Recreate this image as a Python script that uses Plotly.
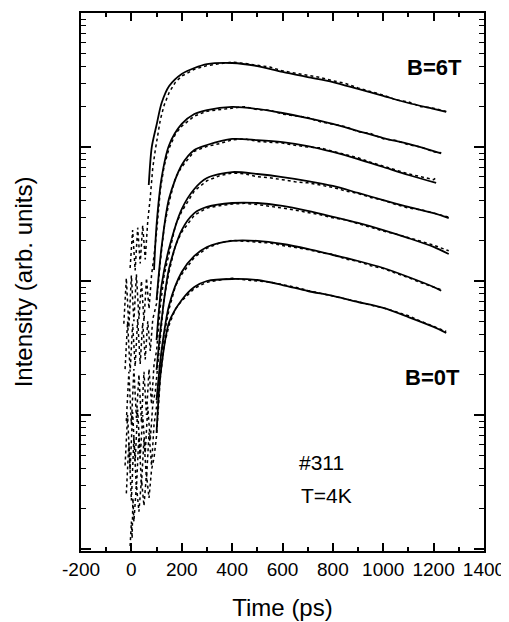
import plotly.graph_objects as go

# ---------------- data (time in ps, intensity in arb. units) ----------------
# fitted curves (solid lines), B = 0T ... 6T
fit_t_0T = [100, 110, 120, 150, 200, 250, 300, 400, 500, 600, 700, 800, 900, 1000, 1100, 1200, 1250]
fit_0T = [7.35, 15.4, 23.6, 49.4, 72.1, 90.2, 100, 103.5, 101.7, 93.3, 84.2, 77.3, 69.7, 62.9, 53.8, 45.4, 40.9]
fit_t_1T = [100, 120, 150, 200, 250, 300, 400, 500, 600, 700, 800, 900, 1000, 1100, 1200, 1230]
fit_1T = [12.9, 30.5, 66.2, 116.7, 153.8, 179.5, 199, 199, 188.8, 173.4, 156.3, 141, 125, 107.1, 90.2, 84.5]
fit_t_2T = [100, 120, 150, 200, 250, 300, 400, 500, 600, 700, 800, 900, 1000, 1100, 1200, 1260]
fit_2T = [21.7, 51.2, 125, 240, 321, 357, 382, 382, 363, 333, 301, 271, 240, 209, 179.5, 159]
fit_t_3T = [100, 120, 150, 200, 250, 300, 400, 500, 600, 700, 800, 900, 1000, 1100, 1200, 1260]
fit_3T = [36.3, 93.3, 176, 344, 486, 587, 650, 629, 597, 557, 512, 454, 402, 357, 321, 295]
fit_t_4T = [100, 120, 150, 200, 250, 300, 400, 500, 600, 700, 800, 900, 1000, 1100, 1210]
fit_4T = [72.1, 179.5, 416, 734, 950, 1035, 1148, 1127, 1089, 1017, 918, 813, 709, 618, 539]
fit_t_5T = [90, 100, 120, 150, 200, 250, 300, 400, 500, 600, 700, 800, 900, 1000, 1100, 1200, 1230]
fit_5T = [120.8, 261.8, 587, 1035, 1486, 1762, 1888, 1990, 1923, 1794, 1644, 1486, 1316, 1167, 1053, 933, 895]
fit_t_6T = [69, 81, 100, 120, 150, 200, 250, 300, 400, 500, 600, 700, 800, 900, 1000, 1100, 1200, 1250]
fit_6T = [520, 1000, 1459, 2130, 2853, 3508, 3888, 4160, 4236, 4018, 3631, 3327, 3055, 2710, 2404, 2130, 1923, 1825]

# measured data (dotted lines)
data_t_0T = [-5, 0, 3, 6, 10, 20, 30, 40, 50, 60, 70, 80, 90,
             100, 115, 130, 150, 175, 200, 250, 300, 350, 400, 450, 500, 550, 600, 650, 700,
             750, 800, 850, 900, 950, 1000, 1050, 1100, 1150, 1200, 1250]
data_0T = [1.05, 1.6, 1.2, 2.4, 1.6, 3.0, 1.9, 3.3, 2.1, 3.6, 2.4, 3.9, 4.8,
           7, 19, 33, 47, 62, 71, 88, 98, 101, 105, 102, 100, 98, 94, 90, 85,
           81, 77, 74, 70, 66, 63, 59, 55, 50, 46, 42]
data_t_1T = [-20, -10, 0, 10, 20, 30, 40, 50, 60, 70, 80, 90,
             100, 115, 130, 150, 175, 200, 250, 300, 350, 400, 450, 500, 550, 600, 650, 700,
             750, 800, 850, 900, 950, 1000, 1050, 1100, 1150, 1200, 1230]
data_1T = [2.6, 6.2, 2.3, 6.8, 2.8, 7.2, 3.0, 6.6, 3.3, 7.4, 4.2, 8.5,
           11.5, 24, 40, 62, 92, 112, 150, 176, 192, 201, 198, 195, 192, 184, 178, 172,
           163, 158, 146, 140, 130, 124, 114, 106, 97, 90, 86]
data_t_2T = [-25, -15, -5, 5, 15, 25, 35, 45, 55, 65, 75, 85, 95,
             100, 115, 130, 150, 175, 200, 250, 300, 350, 400, 450, 500, 550, 600, 650, 700,
             750, 800, 850, 900, 950, 1000, 1050, 1100, 1150, 1200, 1260]
data_2T = [4.2, 10, 3.9, 10.5, 4.5, 11, 4.8, 10, 5.2, 11.5, 6.5, 12, 15,
           19, 40, 75, 118, 185, 232, 310, 350, 365, 375, 380, 372, 362, 350, 338, 325,
           312, 296, 286, 268, 250, 236, 224, 212, 198, 185, 168]
data_t_3T = [-20, -10, 0, 10, 20, 30, 40, 50, 60, 70, 80, 90,
             100, 115, 130, 150, 175, 200, 250, 300, 350, 400, 450, 500, 550, 600, 650, 700,
             750, 800, 850, 900, 950, 1000, 1050, 1100, 1150, 1200, 1260]
data_3T = [9, 21, 8.5, 22, 9.5, 20, 8.8, 21, 10, 22, 12, 24,
           30, 65, 110, 165, 260, 330, 470, 560, 610, 640, 630, 600, 590, 570, 550, 540,
           520, 500, 470, 450, 420, 400, 372, 350, 340, 320, 300]
data_t_4T = [-25, -15, -5, 5, 15, 25, 35, 45, 55, 65, 75, 85, 95,
             100, 115, 130, 150, 175, 200, 250, 300, 350, 400, 450, 500, 550, 600, 650, 700,
             750, 800, 850, 900, 950, 1000, 1050, 1100, 1150, 1200, 1210]
data_4T = [22, 50, 21, 48, 23, 52, 24, 49, 26, 50, 30, 52, 62,
           68, 140, 250, 390, 590, 710, 930, 1010, 1060, 1130, 1150, 1100, 1080, 1070, 1030, 1000,
           985, 930, 880, 830, 770, 720, 680, 630, 600, 570, 590]
data_t_5T = [-30, -20, -10, 0, 10, 20, 30, 40, 50, 60, 70, 80, 90,
             100, 115, 130, 150, 175, 200, 250, 300, 350, 400, 450, 500, 550, 600, 650, 700,
             750, 800, 850, 900, 950, 1000, 1050, 1100, 1150, 1200, 1230]
data_5T = [48, 105, 45, 110, 50, 112, 52, 100, 50, 105, 62, 110, 155,
           230, 480, 720, 980, 1250, 1430, 1700, 1850, 1900, 1960, 2000, 1900, 1880, 1760, 1700, 1660,
           1540, 1470, 1420, 1300, 1260, 1150, 1120, 1040, 1000, 920, 905]
data_t_6T = [-5, 5, 15, 25, 35, 45, 55, 65, 75, 85, 95,
             100, 115, 130, 150, 175, 200, 250, 300, 350, 400, 450, 500, 550, 600, 650, 700,
             750, 800, 850, 900, 950, 1000, 1050, 1100, 1150, 1200, 1250]
data_6T = [125, 240, 120, 250, 135, 260, 145, 280, 420, 700, 950,
           1100, 1600, 2050, 2550, 3050, 3380, 3800, 4050, 4180, 4300, 4200, 4060, 3950, 3700, 3560, 3420,
           3300, 3120, 2980, 2760, 2600, 2440, 2250, 2170, 2000, 1950, 1840]

x_ticks = [-200, 0, 200, 400, 600, 800, 1000, 1200, 1400]
y_major = [1, 10, 100, 1000, 10000]
y_minor = [m * d for d in [1, 10, 100, 1000] for m in range(2, 10)]

fits = [(fit_t_0T, fit_0T), (fit_t_1T, fit_1T), (fit_t_2T, fit_2T), (fit_t_3T, fit_3T),
        (fit_t_4T, fit_4T), (fit_t_5T, fit_5T), (fit_t_6T, fit_6T)]
datas = [(data_t_0T, data_0T), (data_t_1T, data_1T), (data_t_2T, data_2T), (data_t_3T, data_3T),
         (data_t_4T, data_4T), (data_t_5T, data_5T), (data_t_6T, data_6T)]

FONT = "Liberation Sans, Arial, Helvetica, sans-serif"

fig = go.Figure()
for t, v in datas:
    fig.add_trace(go.Scatter(x=t, y=v, mode="lines",
                             line=dict(color="black", width=1.5, dash="dot"),
                             showlegend=False, hoverinfo="skip"))
for t, v in fits:
    fig.add_trace(go.Scatter(x=t, y=v, mode="lines",
                             line=dict(color="black", width=1.8, shape="spline", smoothing=0.8),
                             showlegend=False, hoverinfo="skip"))

# the page body has an 8px margin, so the figure is drawn 8px right/down
fig.update_layout(
    width=501, height=614,
    margin=dict(l=73, r=25, t=5, b=71, autoexpand=False),
    paper_bgcolor="white", plot_bgcolor="white",
    font=dict(family=FONT, color="black", size=19),
    xaxis=dict(
        range=[-200, 1400], tickvals=x_ticks, ticktext=[str(v) for v in x_ticks],
        ticks="inside", ticklen=8, tickwidth=1.5, tickcolor="black",
        minor=dict(ticks="inside", ticklen=4, tickwidth=1.5, dtick=100, tick0=-200, tickcolor="black"),
        showline=True, linewidth=2, linecolor="black", mirror="allticks",
        showgrid=False, zeroline=False, automargin=False,
        ticklabeloverflow="allow",
        tickfont=dict(size=19),
        title=dict(text="Time (ps)", font=dict(size=24), standoff=20),
    ),
    yaxis=dict(
        type="log", range=[-0.015, 4.0], tickvals=y_major,
        showticklabels=False,
        ticks="inside", ticklen=10, tickwidth=1.5, tickcolor="black",
        minor=dict(ticks="inside", ticklen=5, tickwidth=1.2, tickvals=y_minor, tickcolor="black"),
        showline=True, linewidth=2, linecolor="black", mirror="allticks",
        showgrid=False, zeroline=False, automargin=False,
        title=dict(text="Intensity (arb. units)", font=dict(size=24), standoff=40),
    ),
)

ann = [
    ("<b>B=6T</b>", 0.878, 0.898, 22),
    ("<b>B=0T</b>", 0.873, 0.3216, 22),
    ("#311", 0.598, 0.165, 21),
    ("T=4K", 0.608, 0.104, 21),
]
for txt, xp, yp, sz in ann:
    fig.add_annotation(text=txt, x=xp, y=yp, xref="paper", yref="paper",
                       showarrow=False, xanchor="center", yanchor="middle",
                       font=dict(size=sz, family=FONT, color="black"))

fig.write_html("out.html")
